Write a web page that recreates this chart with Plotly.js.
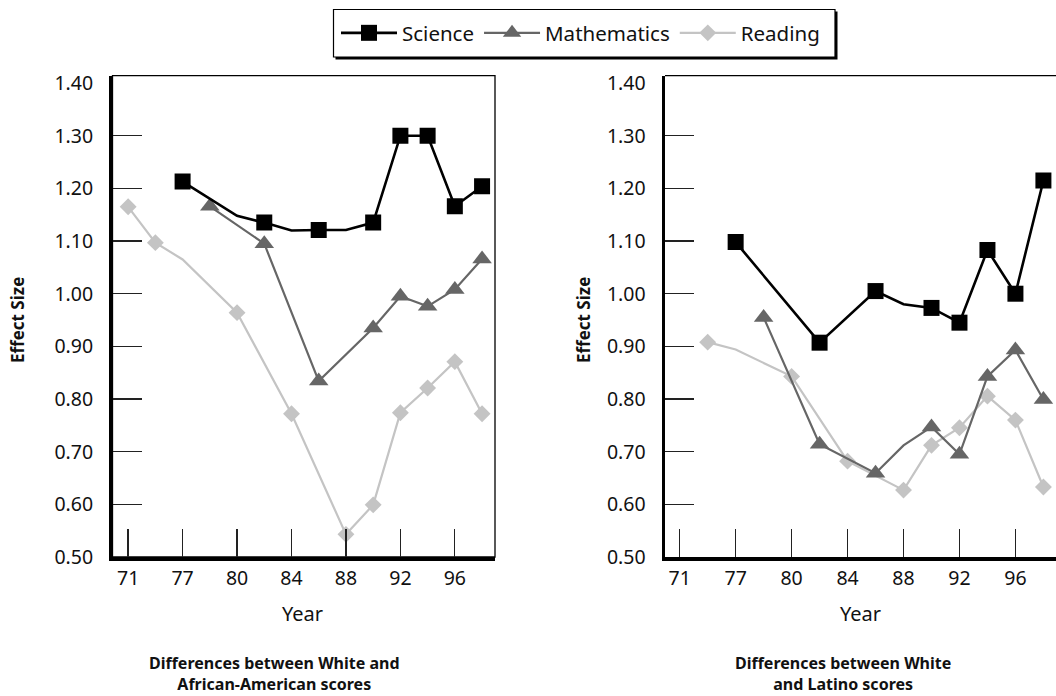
<!DOCTYPE html>
<html>
<head>
<meta charset="utf-8">
<script src="https://cdn.plot.ly/plotly-3.0.1.min.js"></script>
<style>
  html, body { margin: 0; padding: 0; background: #fff; }
  #chart { width: 1056px; height: 696px; }
</style>
</head>
<body>
<div id="chart"></div>
<script>
// Year axis: positions on a compressed year scale and the labels shown for them
const tickPos = [72, 76, 80, 84, 88, 92, 96];
const tickText = ['71', '77', '80', '84', '88', '92', '96'];

// Effect-size axis
const effectLabels = [0.5, 0.6, 0.7, 0.8, 0.9, 1.0, 1.1, 1.2, 1.3, 1.4];
const effectTickMarks = [0.6, 0.7, 0.8, 0.9, 1.0, 1.1, 1.2, 1.3];

// White vs African-American (1 = assessment year with a marker, 0 = bend only)
const aaScienceX = [76, 80, 82, 84, 86, 88, 90, 92, 94, 96, 98];
const aaScienceY = [1.213, 1.148, 1.135, 1.120, 1.121, 1.121, 1.135, 1.300, 1.300, 1.166, 1.204];
const aaScienceMarked = [1, 0, 1, 0, 1, 0, 1, 1, 1, 1, 1];

const aaMathX = [78, 82, 86, 88, 90, 92, 94, 96, 98];
const aaMathY = [1.166, 1.095, 0.834, 0.885, 0.935, 0.995, 0.976, 1.008, 1.066];
const aaMathMarked = [1, 1, 1, 0, 1, 1, 1, 1, 1];

const aaReadingX = [72, 74, 76, 80, 84, 88, 90, 92, 94, 96, 98];
const aaReadingY = [1.165, 1.097, 1.065, 0.964, 0.772, 0.543, 0.599, 0.774, 0.821, 0.871, 0.772];
const aaReadingMarked = [1, 1, 0, 1, 1, 1, 1, 1, 1, 1, 1];

// White vs Latino
const laScienceX = [76, 82, 86, 88, 90, 92, 94, 96, 98];
const laScienceY = [1.098, 0.907, 1.005, 0.980, 0.973, 0.945, 1.083, 1.000, 1.215];
const laScienceMarked = [1, 1, 1, 0, 1, 1, 1, 1, 1];

const laMathX = [78, 82, 86, 88, 90, 92, 94, 96, 98];
const laMathY = [0.955, 0.714, 0.659, 0.712, 0.747, 0.695, 0.843, 0.893, 0.799];
const laMathMarked = [1, 1, 1, 0, 1, 1, 1, 1, 1];

const laReadingX = [74, 76, 80, 84, 88, 90, 92, 94, 96, 98];
const laReadingY = [0.908, 0.894, 0.843, 0.682, 0.627, 0.712, 0.7455, 0.8055, 0.760, 0.633];
const laReadingMarked = [1, 0, 1, 1, 1, 1, 1, 1, 1, 1];

const FONT = 'Noto Sans, Open Sans, Arial, sans-serif';

const styles = {
  Science:     { color: '#000000', symbol: 'square',      size: 16, width: 2.6, rank: 1 },
  Mathematics: { color: '#666666', symbol: 'triangle-up', size: 17, width: 2.2, rank: 2 },
  Reading:     { color: '#c4c4c4', symbol: 'diamond',     size: 13, width: 2.2, rank: 3 }
};

function series(name, x, y, marked, xa, ya, inLegend) {
  const s = styles[name];
  return {
    type: 'scatter', mode: 'lines+markers', name: name,
    x: x, y: y, xaxis: xa, yaxis: ya,
    showlegend: inLegend, legendrank: s.rank,
    line: { color: s.color, width: s.width },
    marker: {
      symbol: s.symbol, size: s.size,
      color: marked.map(m => m ? s.color : 'rgba(0,0,0,0)')
    },
    hoverinfo: 'x+y+name'
  };
}

// Lighter series first so the darker lines sit on top
const data = [
  series('Reading', aaReadingX, aaReadingY, aaReadingMarked, 'x', 'y', true),
  series('Mathematics', aaMathX, aaMathY, aaMathMarked, 'x', 'y', true),
  series('Science', aaScienceX, aaScienceY, aaScienceMarked, 'x', 'y', true),
  series('Reading', laReadingX, laReadingY, laReadingMarked, 'x2', 'y2', false),
  series('Mathematics', laMathX, laMathY, laMathMarked, 'x2', 'y2', false),
  series('Science', laScienceX, laScienceY, laScienceMarked, 'x2', 'y2', false)
];

const W = 1056, H = 696;
const px = v => v / W;
const py = v => 1 - v / H;

function xAxis(domain, range, anchor) {
  return {
    domain: domain, range: range, anchor: anchor,
    tickmode: 'array', tickvals: tickPos, ticktext: tickText,
    ticks: 'inside', ticklen: 28, tickwidth: 1.3, tickcolor: '#222',
    tickfont: { family: FONT, size: 19.5, color: '#111' },
    ticklabelstandoff: 1,
    showline: true, linewidth: 3.5, linecolor: '#000', mirror: false,
    showgrid: false, zeroline: false, fixedrange: true
  };
}
function yAxis(domain, anchor) {
  return {
    domain: domain, range: [0.5, 1.414], anchor: anchor,
    tickmode: 'array', tickvals: effectLabels, tickformat: '.2f',
    ticks: '',
    minor: { tickmode: 'array', tickvals: effectTickMarks, ticks: 'inside',
             ticklen: 29, tickwidth: 1.3, tickcolor: '#222', showgrid: false },
    tickfont: { family: FONT, size: 19.5, color: '#111' },
    ticklabelstandoff: 12,
    showline: true, linewidth: 3.5, linecolor: '#000', mirror: false,
    showgrid: false, zeroline: false, fixedrange: true
  };
}

const yDomain = [1 - 557 / H, 1 - 75.7 / H];

const textFont = (size) => ({ family: FONT, size: size, color: '#111' });

const layout = {
  width: W, height: H,
  margin: { l: 0, r: 0, t: 0, b: 0, pad: 0 },
  paper_bgcolor: '#fff', plot_bgcolor: '#fff',
  font: { family: FONT, color: '#111' },
  xaxis: xAxis([px(112.5), px(495)], [70.85, 98.95], 'y'),
  yaxis: yAxis(yDomain, 'x'),
  xaxis2: xAxis([px(665), 1], [70.95, 98.9], 'y2'),
  yaxis2: yAxis(yDomain, 'x2'),
  showlegend: true,
  legend: {
    orientation: 'h', x: px(336), xanchor: 'left', y: py(33), yanchor: 'middle',
    bgcolor: 'rgba(0,0,0,0)', borderwidth: 0, itemwidth: 56,
    font: textFont(20.5),
    itemclick: false, itemdoubleclick: false
  },
  shapes: [
    // thin frame around the left plot
    { type: 'rect', xref: 'x domain', yref: 'y domain', x0: 0, x1: 1, y0: 0, y1: 1,
      line: { color: '#000', width: 1.3 }, layer: 'below' },
    // top edge of the right plot
    { type: 'line', xref: 'x2 domain', yref: 'y2 domain', x0: 0, x1: 1, y0: 1, y1: 1,
      line: { color: '#000', width: 1.3 }, layer: 'below' },
    // legend box with drop shadow
    { type: 'rect', xref: 'paper', yref: 'paper', x0: px(335.5), x1: px(837.5), y0: py(59.5), y1: py(11.5),
      fillcolor: '#000', line: { width: 0 }, layer: 'above' },
    { type: 'rect', xref: 'paper', yref: 'paper', x0: px(333.5), x1: px(835), y0: py(57), y1: py(9.5),
      fillcolor: '#fff', line: { color: '#000', width: 1.2 }, layer: 'above' }
  ],
  annotations: [
    { text: '<b>Effect Size</b>', xref: 'paper', yref: 'paper', x: px(17), y: py(320),
      xanchor: 'center', yanchor: 'middle',
      textangle: -90, showarrow: false, font: textFont(17) },
    { text: '<b>Effect Size</b>', xref: 'paper', yref: 'paper', x: px(583), y: py(320),
      xanchor: 'center', yanchor: 'middle',
      textangle: -90, showarrow: false, font: textFont(17) },
    { text: 'Year', xref: 'paper', yref: 'paper', x: px(302), y: py(613),
      xanchor: 'center', yanchor: 'middle', showarrow: false, font: textFont(20) },
    { text: 'Year', xref: 'paper', yref: 'paper', x: px(860), y: py(613),
      xanchor: 'center', yanchor: 'middle', showarrow: false, font: textFont(20) },
    { text: '<b>Differences between White and<br>African-American scores</b>', xref: 'paper', yref: 'paper',
      x: px(274), y: py(673), xanchor: 'center', yanchor: 'middle', showarrow: false, align: 'center',
      font: textFont(16) },
    { text: '<b>Differences between White<br>and Latino scores</b>', xref: 'paper', yref: 'paper',
      x: px(843), y: py(673), xanchor: 'center', yanchor: 'middle', showarrow: false, align: 'center',
      font: textFont(16) }
  ]
};

Plotly.newPlot('chart', data, layout, { staticPlot: true, displayModeBar: false });
</script>
</body>
</html>
